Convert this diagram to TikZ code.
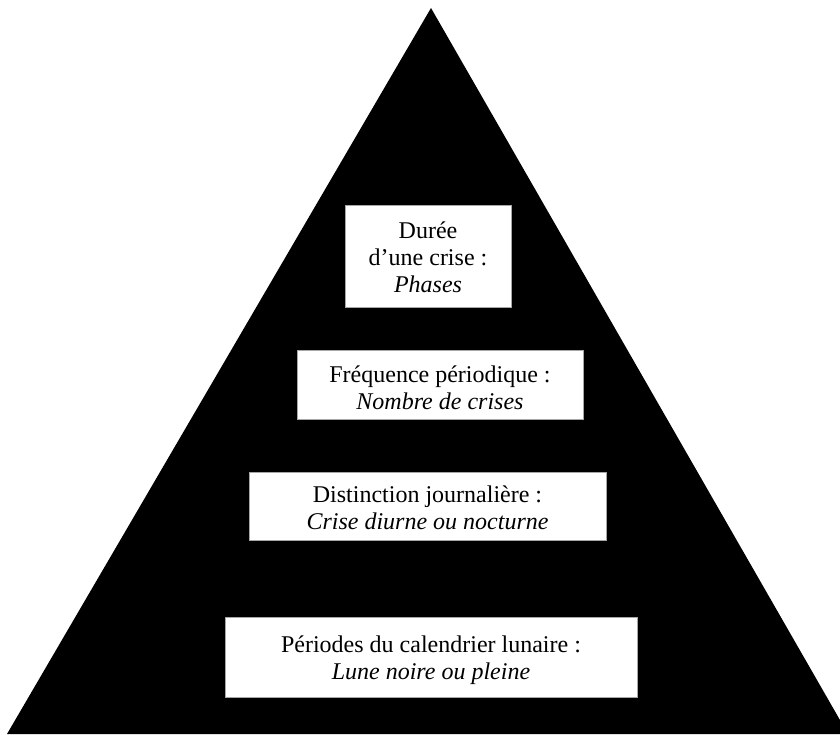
\documentclass[tikz,border=0pt]{standalone}
\usepackage{fontspec}
\setmainfont{Liberation Serif}
\begin{document}
\begin{tikzpicture}[x=1pt,y=-1pt,
  boxstyle/.style={draw=gray!70, line width=0.8pt, fill=white, inner sep=0pt},
  lbl/.style={align=center, inner sep=0pt, font=\fontsize{24}{27}\selectfont},
]
\useasboundingbox (0,0) rectangle (840,734);
\clip (0,0) rectangle (840,734);
\fill[black] (431,8) -- (848,734) -- (7,734) -- cycle;
\node[boxstyle, minimum width=166pt, minimum height=102pt] (b1) at (428,256) {};
\node[lbl] (t1) at ([yshift=-1pt]b1.center) {Durée\\d’une crise :\\\textit{Phases}};
\node[boxstyle, minimum width=286pt, minimum height=69pt] (b2) at (440,384.5) {};
\node[lbl] (t2) at ([yshift=-3.5pt]b2.center) {Fréquence périodique :\\\textit{Nombre de crises}};
\node[boxstyle, minimum width=357pt, minimum height=68pt] (b3) at (427.5,506) {};
\node[lbl] (t3) at ([yshift=-1.5pt]b3.center) {Distinction journalière :\\\textit{Crise diurne ou nocturne}};
\node[boxstyle, minimum width=412pt, minimum height=80pt] (b4) at (431,657) {};
\node[lbl] (t4) at ([yshift=-3.5pt]b4.center) {Périodes du calendrier lunaire :\\\textit{Lune noire ou pleine}};
\end{tikzpicture}
\end{document}
